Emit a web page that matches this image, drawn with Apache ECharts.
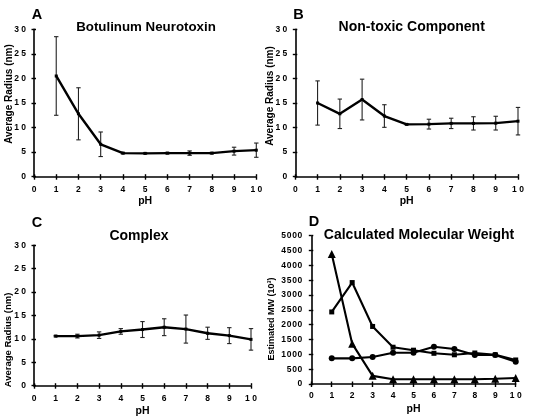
<!DOCTYPE html>
<html><head><meta charset="utf-8">
<script src="https://cdn.jsdelivr.net/npm/echarts@6/dist/echarts.min.js"></script>
<style>html,body{margin:0;padding:0;background:#fff}#c{width:533px;height:419px}</style>
</head><body><div id="c"></div>
<script>
// ---- data ----
const phValues = [1, 2, 3, 4, 5, 6, 7, 8, 9, 10];
const toxinRadius = [20.5, 12.8, 6.6, 4.8, 4.75, 4.8, 4.8, 4.8, 5.2, 5.4];
const toxinErr = [8.0, 5.3, 2.5, 0.15, 0.1, 0.15, 0.45, 0.15, 0.8, 1.45];
const nonToxicRadius = [15.0, 12.8, 15.7, 12.35, 10.65, 10.7, 10.85, 10.85, 10.9, 11.3];
const nonToxicErr = [4.5, 3.0, 4.15, 2.3, 0.1, 1.0, 1.05, 1.35, 1.4, 2.8];
const complexRadius = [10.6, 10.6, 10.8, 11.6, 12.0, 12.5, 12.1, 11.2, 10.7, 9.9];
const complexErr = [0.15, 0.4, 0.7, 0.6, 1.7, 1.8, 3.0, 1.3, 1.7, 2.3];
const mwToxin = [4380, 1360, 275, 160, 160, 160, 160, 160, 175, 200];
const mwNonToxic = [2430, 3420, 1940, 1240, 1140, 1035, 985, 1045, 985, 810];
const mwComplex = [865, 865, 910, 1055, 1055, 1255, 1180, 980, 980, 750];
const panelTitles = ['Botulinum Neurotoxin', 'Non-toxic Component', 'Complex', 'Calculated Molecular Weight'];
const panelLetters = ['A', 'B', 'C', 'D'];
const radiusAxisName = 'Average Radius (nm)';
const mwAxisName = 'Estimated MW (10³)';
const xAxisName = 'pH';

// ---- layout ----
const FONT = 'Liberation Sans, Arial, Helvetica, sans-serif';
const grids = [
  {left: 34, top: 29.3, width: 222.3, height: 147.4},
  {left: 295.3, top: 29.3, width: 222.7, height: 147.4},
  {left: 34, top: 245.3, width: 217, height: 140.4},
  {left: 311.3, top: 235.7, width: 204.4, height: 148.3}
];
const spaced = v => String(v).split('').join(' ');
const spacedThin = v => String(v).split('').join('\u200A');

const gridList = [], xAxes = [], yAxes = [], series = [];
grids.forEach((g, i) => {
  const isMW = i === 3;
  gridList.push(Object.assign({containLabel: false}, g));
  gridList.push(Object.assign({containLabel: false}, g));
  const mainIdx = gridList.length - 2, overIdx = gridList.length - 1;
  const axisLine = {lineStyle: {color: '#000', width: 1.6}};
  xAxes.push({
    gridIndex: mainIdx, type: 'value', min: 0, max: 10, interval: 1,
    axisLine: Object.assign({onZero: false}, axisLine),
    axisTick: {length: 3, lineStyle: {color: '#000', width: 1.4}},
    splitLine: {show: false},
    axisLabel: {formatter: spaced, fontFamily: FONT, fontWeight: 'bold', fontSize: 8.5, color: '#000', margin: isMW ? 7 : 8},
    name: xAxisName, nameLocation: 'middle', nameGap: (i >= 2) ? 20 : 19,
    nameTextStyle: {fontFamily: FONT, fontWeight: 'bold', fontSize: 10.5, color: '#000'}
  });
  xAxes.push({
    gridIndex: overIdx, type: 'value', min: 0, max: 10, interval: 1,
    axisLine: {show: false}, axisLabel: {show: false}, splitLine: {show: false},
    axisTick: {inside: true, length: 2.5, lineStyle: {color: '#000', width: 1.4}}
  });
  const ymax = isMW ? 5000 : 30, yint = isMW ? 500 : 5;
  yAxes.push({
    gridIndex: mainIdx, type: 'value', min: 0, max: ymax, interval: yint,
    axisLine: Object.assign({show: true, onZero: false}, axisLine),
    axisTick: {show: true, length: 2.5, lineStyle: {color: '#000', width: 1.4}},
    splitLine: {show: false},
    axisLabel: {formatter: isMW ? spacedThin : spaced, fontFamily: FONT, fontWeight: 'bold', fontSize: 8.5, color: '#000', margin: isMW ? 9 : 8}
  });
  yAxes.push({
    gridIndex: overIdx, type: 'value', min: 0, max: ymax, interval: yint,
    axisLine: {show: false}, axisLabel: {show: false}, splitLine: {show: false},
    axisTick: {show: true, inside: true, length: 2, lineStyle: {color: '#000', width: 1.4}}
  });
});

function errorSeries(axisIdx, vals, errs) {
  return {
    type: 'custom', xAxisIndex: axisIdx, yAxisIndex: axisIdx, z: 2, silent: true,
    data: phValues.map((p, k) => [p, vals[k], errs[k]]),
    renderItem: (params, api) => {
      const x = api.value(0), y = api.value(1), e = api.value(2);
      const top = api.coord([x, y + e]), bot = api.coord([x, y - e]);
      const st = {stroke: '#222', lineWidth: 1.1};
      const cw = 2.2;
      return {type: 'group', children: [
        {type: 'line', shape: {x1: top[0], y1: top[1], x2: bot[0], y2: bot[1]}, style: st},
        {type: 'line', shape: {x1: top[0] - cw, y1: top[1], x2: top[0] + cw, y2: top[1]}, style: st},
        {type: 'line', shape: {x1: bot[0] - cw, y1: bot[1], x2: bot[0] + cw, y2: bot[1]}, style: st}
      ]};
    }
  };
}
function radiusLine(axisIdx, vals) {
  return {
    type: 'line', xAxisIndex: axisIdx, yAxisIndex: axisIdx, z: 3,
    data: phValues.map((p, k) => [p, vals[k]]),
    symbol: 'rect', symbolSize: 3, showSymbol: true,
    lineStyle: {color: '#000', width: 2.4}, itemStyle: {color: '#000'}
  };
}
series.push(errorSeries(0, toxinRadius, toxinErr), radiusLine(0, toxinRadius));
series.push(errorSeries(2, nonToxicRadius, nonToxicErr), radiusLine(2, nonToxicRadius));
series.push(errorSeries(4, complexRadius, complexErr), radiusLine(4, complexRadius));
[[mwToxin, 'triangle', 8], [mwNonToxic, 'rect', 5], [mwComplex, 'circle', 6]].forEach(([vals, sym, sz]) => {
  series.push({
    type: 'line', xAxisIndex: 6, yAxisIndex: 6, z: 3,
    data: phValues.map((p, k) => [p, vals[k]]),
    symbol: sym, symbolSize: sz, showSymbol: true,
    lineStyle: {color: '#000', width: 2.1}, itemStyle: {color: '#000'}
  });
});

const txt = (x, y, text, size, extra) => Object.assign({
  type: 'text', x, y,
  style: {text, font: 'bold ' + size + 'px ' + FONT, fill: '#000', align: 'center', verticalAlign: 'middle'}
}, extra || {});
const graphics = [
  txt(37, 15, panelLetters[0], 14.5), txt(298.5, 14.5, panelLetters[1], 14.5),
  txt(37, 223, panelLetters[2], 14.5), txt(314, 222, panelLetters[3], 14.5),
  txt(146, 27, panelTitles[0], 13.3), txt(411.7, 27.2, panelTitles[1], 14),
  txt(139, 236.5, panelTitles[2], 14), txt(419, 235, panelTitles[3], 14),
  txt(9, 94, radiusAxisName, 10, {rotation: Math.PI / 2}),
  txt(270, 96, radiusAxisName, 10, {rotation: Math.PI / 2}),
  txt(8.5, 340, radiusAxisName, 9.5, {rotation: Math.PI / 2}),
  txt(272, 319, mwAxisName, 9, {rotation: Math.PI / 2})
];

const chart = echarts.init(document.getElementById('c'), null, {renderer: 'canvas'});
chart.setOption({
  animation: false, backgroundColor: '#fff',
  grid: gridList, xAxis: xAxes, yAxis: yAxes, series, graphic: graphics
});
</script></body></html>
